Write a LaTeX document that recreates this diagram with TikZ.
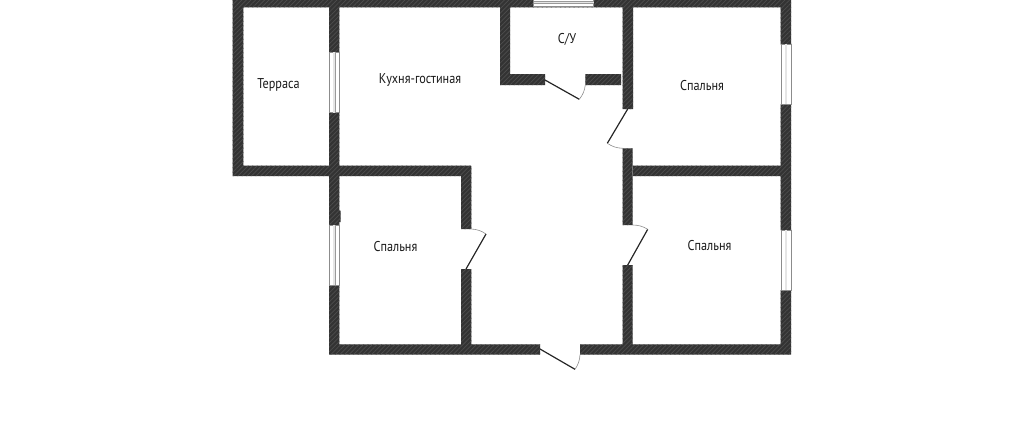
\documentclass[tikz,border=0pt]{standalone}
\usepackage{fontspec}
\setmainfont[FakeStretch=0.86]{PT Sans}
\usetikzlibrary{patterns.meta}

\begin{document}
\begin{tikzpicture}[x=1pt, y=-1pt]
\definecolor{wallcol}{HTML}{333333}
\definecolor{hatchcol}{HTML}{4E4E4E}
\tikzstyle{wall}=[fill=wallcol, postaction={pattern={Lines[angle=45, distance=3.2pt, line width=0.7pt]}, pattern color=hatchcol}]
\tikzstyle{window}=[draw=black!45, fill=white, line width=0.6pt]
\tikzstyle{pane}=[draw=black!40, line width=0.6pt, double=black!10, double distance=1.6pt]
\tikzstyle{leaf}=[draw=black!85, line width=1.2pt]
\tikzstyle{swing}=[draw=black!45, line width=0.6pt]
\tikzstyle{room}=[font=\fontsize{14.2}{17}\selectfont, text=black!90, inner sep=0pt]

\useasboundingbox (0,0) rectangle (1024,432);

% 1. Walls
%%%%%%%%%%
\path[wall] (233,0) rectangle (791,7.3)
      (232.7,0) rectangle (243.3,176)
      (232.7,165.7) rectangle (471.2,176)
      (329,0) rectangle (339.3,52)
      (329,112.7) rectangle (339.3,225)
      (329,285) rectangle (339.3,354.7)
      (339,210.7) rectangle (340.7,222)
      (461,166) rectangle (471.3,229)
      (461,269) rectangle (471.3,345)
      (329,344.3) rectangle (540,354.7)
      (580,344.3) rectangle (791,354.7)
      (500,0) rectangle (510,85)
      (500,74) rectangle (545,85)
      (585.3,74) rectangle (621,85)
      (622.7,0) rectangle (633,109)
      (622.7,148.3) rectangle (632.7,225)
      (622.7,265) rectangle (632.7,345)
      (633,165.7) rectangle (781,176)
      (780.7,0) rectangle (791,44.3)
      (780.7,104.3) rectangle (791,230)
      (780.7,290) rectangle (791,354.7);

% 2. Windows
%%%%%%%%%%%%
\draw[window] (533.7,-2) rectangle (593.7,6.7);
\draw[pane] (533.7,2.5) -- (593.7,2.5);
\draw[window] (329.2,52) rectangle (339.2,112.7);
\draw[pane] (334.2,52) -- (334.2,112.7);
\draw[window] (329.2,225) rectangle (339.2,285);
\draw[pane] (334.2,225) -- (334.2,285);
\draw[window] (780.9,44.3) rectangle (790.9,104.3);
\draw[pane] (785.9,44.3) -- (785.9,104.3);
\draw[window] (780.9,230) rectangle (790.9,290);
\draw[pane] (785.9,230) -- (785.9,290);

% 3. Doors
%%%%%%%%%%
\coordinate (bathhinge) at (545,80);
\coordinate (bathtip) at (579.3,99.3);
\coordinate (bathjamb) at (585.3,85);
\coordinate (northhinge) at (627.7,109);
\coordinate (northtip) at (607.3,143.3);
\coordinate (northjamb) at (622.7,148.3);
\coordinate (easthinge) at (627.7,265);
\coordinate (easttip) at (647.7,229.3);
\coordinate (eastjamb) at (632.7,225);
\coordinate (westhinge) at (466,269);
\coordinate (westtip) at (486,234);
\coordinate (westjamb) at (471.3,229);
\coordinate (entryhinge) at (540,349);
\coordinate (entrytip) at (575,369.3);
\coordinate (entryjamb) at (580,354.7);
\path (bathhinge)  edge [leaf] (bathtip)
      (northhinge) edge [leaf] (northtip)
      (easthinge)  edge [leaf] (easttip)
      (westhinge)  edge [leaf] (westtip)
      (entryhinge) edge [leaf] (entrytip);
\path (bathtip)  edge [swing, bend right=15] (bathjamb)
      (northtip) edge [swing, bend right=15] (northjamb)
      (easttip)  edge [swing, bend right=15] (eastjamb)
      (westtip)  edge [swing, bend right=15] (westjamb)
      (entrytip) edge [swing, bend right=15] (entryjamb);

% 4. Rooms
%%%%%%%%%%
\node[room] (terrace) at (278.5,84.5) {Терраса};
\node[room] (kitchen) at (420,80) {Кухня-гостиная};
\node[room] (bath) at (567,39) {С/У};
\node[room] (bednorth) at (702,86) {Спальня};
\node[room] (bedwest) at (395.5,247) {Спальня};
\node[room] (bedeast) at (709.5,246) {Спальня};

\end{tikzpicture}
\end{document}
